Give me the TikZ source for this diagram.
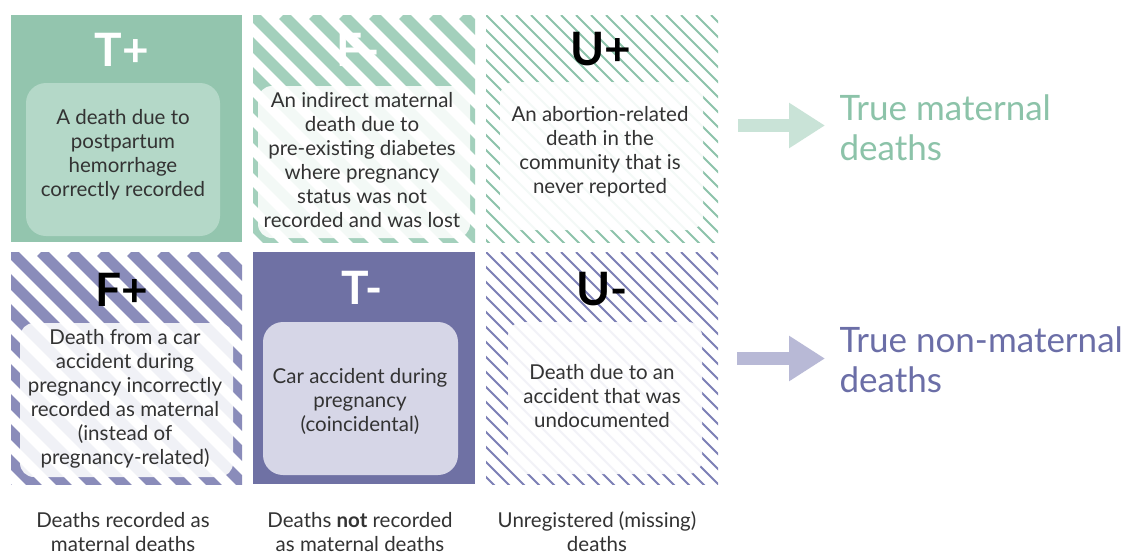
\documentclass[tikz,border=0pt]{standalone}
\usepackage{fontspec}
\setmainfont{Lato}
\usetikzlibrary{arrows.meta}

\definecolor{matgreen}{HTML}{93C5AE}
\definecolor{matgreenpale}{HTML}{B4D8C8}
\definecolor{matgreenstripe}{HTML}{A3D0BC}
\definecolor{matgreenline}{HTML}{8DC3AA}
\definecolor{matgreenarrow}{HTML}{C9E3D7}
\definecolor{matgreentext}{HTML}{8CC3A9}
\definecolor{nonpurple}{HTML}{6F71A4}
\definecolor{nonpurplepale}{HTML}{D6D6E7}
\definecolor{nonpurplestripe}{HTML}{8A8CBA}
\definecolor{nonpurpleline}{HTML}{7C7FB6}
\definecolor{nonpurplearrow}{HTML}{B8B9D6}
\definecolor{nonpurpletext}{HTML}{6B6EA7}
\definecolor{bodytext}{HTML}{333333}

\tikzset{
  body/.style={font=\fontsize{20.5}{24}\selectfont, text=bodytext, align=center},
  tag/.style={font=\fontsize{46}{46}\selectfont\bfseries},
  veil/.style={fill=white, fill opacity=.88, rounded corners=14pt},
  pad/.style={rounded corners=20pt},
  outcome/.style={font=\fontsize{35}{40}\selectfont, align=left, anchor=west},
  fat/.style={line width=13pt, -{Triangle[length=36pt,width=43pt]}},
  broad/.style={line width=11pt},
  hairs/.style={line width=1.8pt}
}

\begin{document}
\begin{tikzpicture}[x=1pt, y=-1pt]
  \useasboundingbox[fill=white] (0,0) rectangle (1134,554);

  % top row
  \fill[matgreen] (11,15) rectangle (242,242);
  \fill[matgreenpale, pad] (26,83) rectangle (220,236);

  \begin{scope}
    \clip (253,15) rectangle (475,242);
    \foreach \s in {13,43,...,475}
      \draw[matgreenstripe, broad] (\s,15) -- ++(240,240);
  \end{scope}
  \fill[veil] (258,86) rectangle (470,238);

  \begin{scope}
    \clip (486,15) rectangle (718,242);
    \foreach \s in {246,261,...,718}
      \draw[matgreenline, hairs] (\s,15) -- ++(240,240);
  \end{scope}
  \fill[veil, fill opacity=.9] (500,82) rectangle (703,230);

  % bottom row
  \begin{scope}
    \clip (11,252) rectangle (242,484);
    \foreach \s in {-229,-199,...,242}
      \draw[nonpurplestripe, broad] (\s,252) -- ++(240,240);
  \end{scope}
  \fill[veil] (20,323) rectangle (233,477);

  \fill[nonpurple] (253,252) rectangle (475,484);
  \fill[nonpurplepale, pad] (263,322) rectangle (458,475);

  \begin{scope}
    \clip (486,252) rectangle (718,484);
    \foreach \s in {246,261,...,718}
      \draw[nonpurpleline, hairs] (\s,252) -- ++(240,240);
  \end{scope}
  \fill[veil, fill opacity=.9] (508,322) rectangle (702,474);

  \node[tag, text=white] (tp) at (122,50) {T+};
  \node[tag, text=white] (fm) at (358,50) {F-};
  \node[tag, text=black] (up) at (601,49) {U+};
  \node[tag, text=black] (fp) at (122,290) {F+};
  \node[tag, text=white] (tm) at (362,288) {T-};
  \node[tag, text=black] (um) at (602,289) {U-};

  \node[body] (tpbody) at (123,155) {A death due to\\postpartum\\hemorrhage\\correctly recorded};
  \node[body] (fmbody) at (362,160) {An indirect maternal\\death due to\\pre-existing diabetes\\where pregnancy\\status was not\\recorded and was lost};
  \node[body] (upbody) at (600,152) {An abortion-related\\death in the\\community that is\\never reported};
  \node[body] (fpbody) at (125,399) {Death from a car\\accident during\\pregnancy incorrectly\\recorded as maternal\\(instead of\\pregnancy-related)};
  \node[body] (tmbody) at (360,401) {Car accident during\\pregnancy\\(coincidental)};
  \node[body] (umbody) at (602,396) {Death due to an\\accident that was\\undocumented};

  \node[body] (reccap) at (123,532) {Deaths recorded as\\maternal deaths};
  \node[body] (notcap) at (360,532) {Deaths \textbf{not} recorded\\as maternal deaths};
  \node[body] (miscap) at (597,532) {Unregistered (missing)\\deaths};

  \node[outcome, text=matgreentext] (mattrue) at (836,128) {True maternal\\deaths};
  \node[outcome, text=nonpurpletext] (nontrue) at (836,360) {True non-maternal\\deaths};

  \coordinate (matfrom) at (738,125.5);
  \coordinate (nonfrom) at (737,358.5);
  \draw[fat, matgreenarrow, shorten >=11pt] (matfrom) -- (matfrom -| mattrue.west);
  \draw[fat, nonpurplearrow, shorten >=11pt] (nonfrom) -- (nonfrom -| nontrue.west);
\end{tikzpicture}
\end{document}
